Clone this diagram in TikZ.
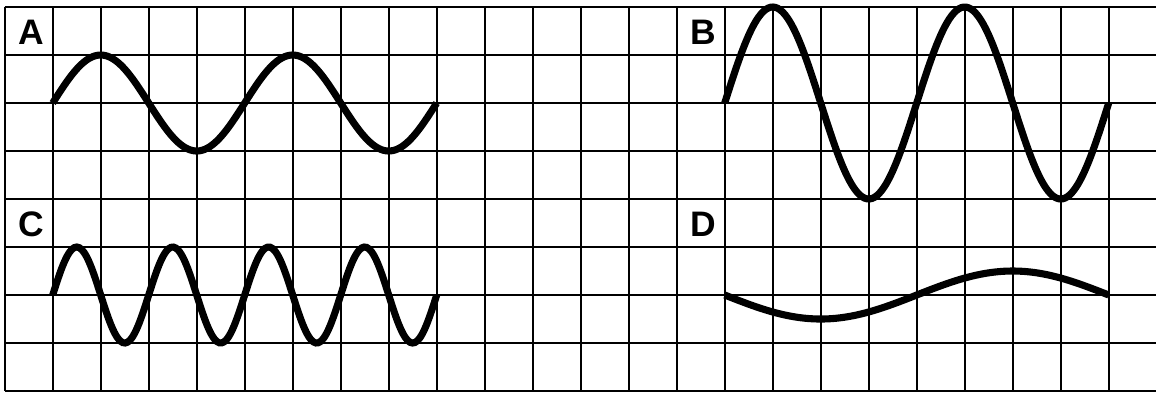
\documentclass[tikz,border=0pt]{standalone}
\usepackage{fontspec}
\setmainfont{Liberation Sans}
\usepackage{tikz}
\usetikzlibrary{positioning}

\begin{document}
\begin{tikzpicture}[
  x=1cm, y=1cm,
  every node/.style={font=\bfseries\fontsize{21}{24}\selectfont, inner sep=0pt},
  gridline/.style={black, line width=1pt},
  wave/.style={black, line width=4.2pt, smooth, samples=160}
]
  \useasboundingbox (-0.098,-0.021) rectangle (23.985,8.146);
  % squared paper
  \foreach \i in {0,...,23}
    \draw[gridline] (\i,0) -- (\i,8);
  \foreach \j in {0,...,8}
    \draw[gridline] (0,\j) -- (23.985,\j);
  % labels
  \node (labA) at (0.55,7.48) {A};
  \node (labB) at (14.55,7.48) {B};
  \node (labC) at (0.55,3.47) {C};
  \node (labD) at (14.55,3.47) {D};
  % the four waves
  \draw[wave] plot[domain=1:9] (\x,{6+sin(90*(\x-1))});
  \draw[wave] plot[domain=15:23] (\x,{6+2*sin(90*(\x-15))});
  \draw[wave] plot[domain=1:9] (\x,{2+sin(180*(\x-1))});
  \draw[wave] plot[domain=15:23] (\x,{2-0.5*sin(45*(\x-15))});
\end{tikzpicture}
\end{document}
